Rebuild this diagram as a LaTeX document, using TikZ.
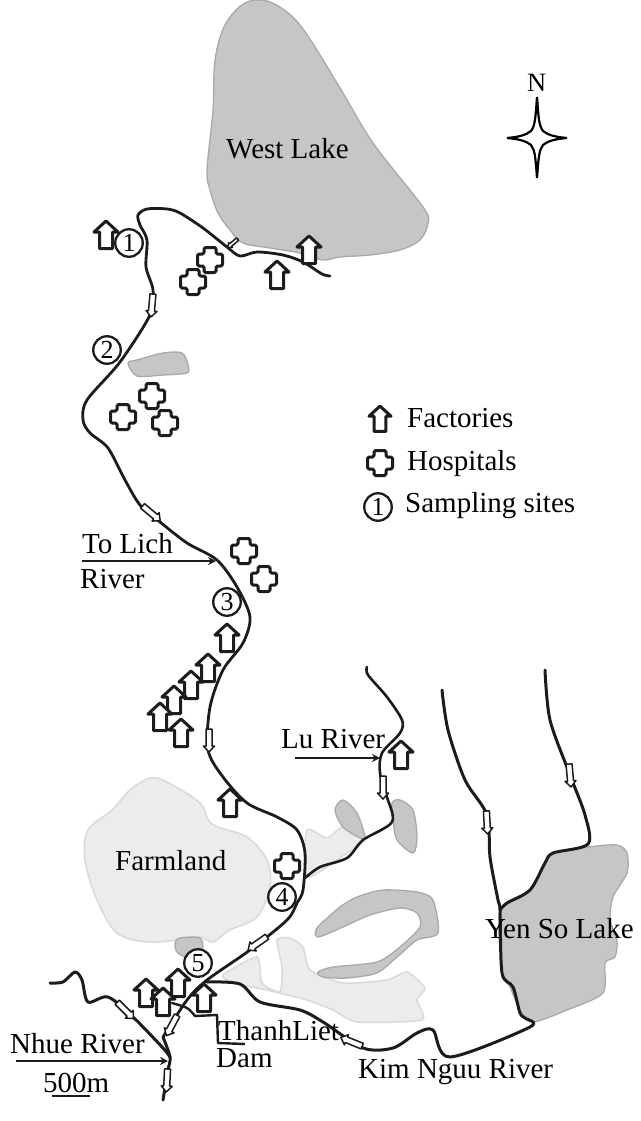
\documentclass[tikz,border=0pt]{standalone}
\usepackage{fontspec}
\setmainfont{Liberation Serif}
\usetikzlibrary{arrows.meta}
\definecolor{lakefill}{HTML}{C6C6C6}
\definecolor{lakeedge}{HTML}{A9A9A9}
\definecolor{farmfill}{HTML}{ECECEC}
\definecolor{farmedge}{HTML}{DADADA}
\definecolor{ink}{HTML}{1C1C1C}
\tikzset{
  lake/.style={fill=lakefill,draw=lakeedge,line width=1.3pt},
  farm/.style={fill=farmfill,draw=farmedge,line width=1.6pt},
  river/.style={draw=ink,line width=3pt,line cap=round,line join=round},
  leader/.style={draw=ink,line width=2.5pt,-{Stealth[length=8pt,width=8pt]}},
  label/.style={font=\fontsize{29}{31}\selectfont,inner sep=0pt,anchor=base west,text=black},
  sitemark/.style={circle,draw=ink,line width=2.3pt,fill=white,minimum size=27.5pt,inner sep=0pt,font=\fontsize{26}{27}\selectfont},
  factory/.pic={\draw[draw=ink,line width=3pt,fill=white,line join=round]
    (0,-14)--(12,-3)--(6.5,-3)--(6.5,13.5)--(-6.5,13.5)--(-6.5,-3)--(-12,-3)--cycle;},
  hospital/.pic={\draw[draw=ink,line width=3pt,fill=white,line join=round,rounded corners=1.5pt]
    (-6,-12.5)--(6,-12.5)--(6,-6)--(12.5,-6)--(12.5,6)--(6,6)--(6,12.5)--(-6,12.5)--(-6,6)--(-12.5,6)--(-12.5,-6)--(-6,-6)--cycle;},
  flow/.pic={\draw[draw=ink,line width=1.5pt,fill=white,line join=round]
    (-3,-11)--(3,-11)--(3,6)--(5.5,6)--(0,12)--(-5.5,6)--(-3,6)--cycle;}
}
\begin{document}
\begin{tikzpicture}[x=1pt,y=-1pt]
\useasboundingbox (0,0) rectangle (640,1121);
% farmland
\path[farm] plot[smooth cycle,tension=0.55] coordinates {(130,790)(150,778)(167,782)(200,803)(212,824)(247,837)(267,860)(270,887)(257,917)(230,930)(213,942)(200,937)(177,940)(147,942)(117,933)(97,900)(85,860)(88,830)(112,810)};
\path[farm] plot[smooth cycle,tension=0.4] coordinates {(307,830)(327,838)(343,827)(363,840)(347,853)(307,877)};
\path[farm] plot[smooth cycle,tension=0.35] coordinates {(223,975)(257,957)(262,983)(280,992)(282,967)(277,940)(290,938)(303,947)(310,970)(343,983)(387,980)(407,972)(425,988)(417,1000)(422,1020)(357,1022)(333,1010)(307,1000)(267,990)(233,983)};
% lakes
\path[lake] plot[smooth cycle,tension=0.55] coordinates {(245,3)(270,2)(300,25)(340,88)(373,143)(423,207)(428,223)(420,240)(400,250)(370,255)(340,257)(323,260)(300,253)(270,248)(243,243)(230,230)(218,213)(210,190)(207,170)(213,110)(215,60)(225,25)};
\path[lake] plot[smooth cycle,tension=0.5] coordinates {(128,363)(137,360)(163,353)(182,353)(188,365)(187,373)(163,375)(137,376)};
\path[lake] plot[smooth cycle,tension=0.5] coordinates {(335,810)(343,800)(357,813)(365,837)(360,838)(343,827)};
\path[lake] plot[smooth cycle,tension=0.5] coordinates {(392,803)(400,800)(413,810)(417,837)(413,853)(397,840)(393,820)};
\path[lake] plot[smooth cycle,tension=0.45] coordinates {(317,928)(340,907)(357,897)(383,890)(417,892)(433,900)(438,933)(417,940)(397,957)(377,973)(347,978)(323,977)(318,972)(333,967)(377,962)(400,947)(420,927)(417,913)(400,908)(370,915)(343,927)(318,937)};
\path[lake] plot[smooth cycle,tension=0.45] coordinates {(553,853)(588,847)(617,845)(627,853)(627,873)(613,897)(610,920)(617,940)(615,957)(605,963)(603,993)(567,1010)(533,1022)(520,1010)(510,987)(502,970)(500,910)(530,890)(543,867)};
\path[lake] plot[smooth cycle,tension=0.5] coordinates {(175,943)(180,938)(200,938)(202,950)(187,957)(177,952)};
% rivers
\draw[river,line width=2.8pt] plot[smooth,tension=0.5] coordinates {(330,276)(322,274)(303,262)(283,255)(257,252)(240,256)(227,247)(203,228)(180,213)(167,209)(147,209)(138,215)(140,225)(147,240)(146,267)(153,290)(150,315)(120,362)(87,400)(83,420)(90,433)(108,448)(125,480)(140,505)(160,522)(187,543)(217,560)(237,587)(250,617)(243,643)(223,670)(210,707)(208,750)(223,777)(247,803)(277,817)(297,830)(305,853)(303,890)(297,903)(287,920)(250,950)(207,980)(187,1000)(163,1037)};
\draw[river] plot[smooth,tension=0.5] coordinates {(163,1037)(170,1057)(168,1070)(163,1100)};
\draw[river] plot[smooth,tension=0.5] coordinates {(50,983)(63,982)(75,972)(82,980)(88,1002)(108,997)(133,1017)(163,1048)(170,1057)};
\draw[river] plot[smooth,tension=0.5] coordinates {(207,982)(240,984)(260,1002)(300,1010)(323,1022)(363,1048)(393,1048)(417,1033)(433,1030)(450,1057)(530,1027)(525,1018)(520,1013)(513,987)(502,973)(500,910)(498,900)(490,857)(487,815)(465,780)(448,730)(442,690)};
\draw[river] plot[smooth,tension=0.5] coordinates {(500,910)(507,903)(530,890)(545,863)(553,853)(588,844)(585,815)(570,775)(550,720)(545,670)};
\draw[river,line width=2.6pt] plot[smooth,tension=0.5] coordinates {(367,667)(368,675)(387,697)(402,720)(400,733)(382,753)(380,773)(387,797)(392,822)(363,840)(347,858)(320,867)(305,878)};
\draw[river,line width=2.4pt] plot[smooth,tension=0.5] coordinates {(172,1003)(187,1008)(195,1016)};
\draw[draw=ink,line width=2.4pt,line join=round] (195,1016)--(217,1015)--(218,1043)--(245,1044);
% flow arrows
\pic[rotate=-50,scale=0.55] at (233,243) {flow};
\pic[rotate=-5] at (152,305) {flow};
\pic[rotate=50] at (151,513) {flow};
\pic at (209,740) {flow};
\pic at (383,787) {flow};
\pic[rotate=-55] at (258,943) {flow};
\pic[rotate=45] at (125,1010) {flow};
\pic[rotate=-28] at (172,1025) {flow};
\pic[rotate=-3] at (167,1080) {flow};
\pic[rotate=-112] at (352,1042) {flow};
\pic[rotate=3] at (487,822) {flow};
\pic[rotate=5] at (570,775) {flow};
% factories
\foreach \p in {(106,235),(309,250),(277,275),(227,638),(208,668),(191,685),(174,700),(160,717),(181,733),(230,803),(401,755),(146,993),(178,983),(163,1002),(204,998)}
  \pic at \p {factory};
\pic[scale=0.92] at (380,419) {factory};
% hospitals
\foreach \p in {(210,260),(193,282),(152,396),(123,417),(165,423),(244,551),(264,579),(287,866),(380,463)}
  \pic at \p {hospital};
% sites
\node[sitemark] (s1) at (129,243) {1};
\node[sitemark] (s2) at (107,350) {2};
\node[sitemark] (s3) at (227,602) {3};
\node[sitemark] (s4) at (282,897) {4};
\node[sitemark] (s5) at (198,963) {5};
\node[sitemark] (s0) at (378,507) {1};
% labels
\node[label] (westlake) at (226,158) {West Lake};
\node[label,font=\fontsize{26.5}{28}\selectfont] (north) at (527,92) {N};
\node[label] (lfac) at (407,427) {Factories};
\node[label] (lhos) at (407,470) {Hospitals};
\node[label] (lsam) at (405,512) {Sampling sites};
\node[label] (tolich) at (82,553) {To Lich};
\node[label] (toriver) at (80,588) {River};
\node[label] (lu) at (281,748) {Lu River};
\node[label] (farmland) at (115,870) {Farmland};
\node[label] (yenso) at (485,938) {Yen So Lake};
\node[label] (kim) at (358,1078) {Kim Nguu River};
\node[label] (thanh) at (218,1040) {ThanhLiet};
\node[label] (dam) at (216,1067) {Dam};
\node[label] (nhue) at (10,1053) {Nhue River};
\node[label] (scale) at (43,1092) {500m};
\draw[draw=ink,line width=2.6pt] (52,1096)--(90,1096);
% leaders
\coordinate (a1) at (82,561); \coordinate (a2) at (216,561);
\coordinate (b1) at (295,758); \coordinate (b2) at (380,758);
\coordinate (c1) at (16,1061); \coordinate (c2) at (168,1061);
\draw[leader] (a1)--(a2);
\draw[leader] (b1)--(b2);
\draw[leader] (c1)--(c2);
% compass
\draw[draw=black,line width=2.2pt,fill=white,line join=miter]
 (537,97) .. controls (538.5,118) and (539,126) .. (543,131)
 .. controls (548,135) and (555,137) .. (567,138)
 .. controls (555,139) and (548,141) .. (543,145)
 .. controls (539,150) and (538.5,158) .. (537,178)
 .. controls (535.5,158) and (535,150) .. (531,145)
 .. controls (526,141) and (519,139) .. (507,138)
 .. controls (519,137) and (526,135) .. (531,131)
 .. controls (535,126) and (535.5,118) .. (537,97) -- cycle;
\end{tikzpicture}
\end{document}
